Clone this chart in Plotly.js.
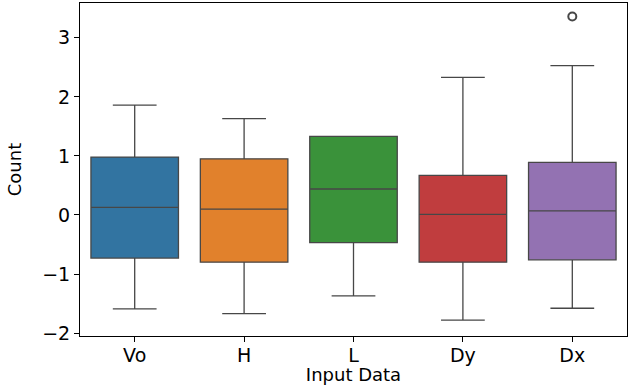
<!DOCTYPE html>
<html><head><meta charset="utf-8">
<script src="https://cdn.plot.ly/plotly-3.0.1.min.js"></script>
<style>html,body{margin:0;padding:0;background:#fff}#chart{width:637px;height:385px}</style>
</head><body><div id="chart"></div>
<script>
const categories = ["Vo", "H", "L", "Dy", "Dx"];
const q1Values = [-0.73, -0.80, -0.47, -0.80, -0.76];
const medianValues = [0.13, 0.10, 0.44, 0.01, 0.07];
const q3Values = [0.98, 0.95, 1.33, 0.67, 0.89];
const lowerWhisker = [-1.59, -1.67, -1.37, -1.78, -1.58];
const upperWhisker = [1.86, 1.63, 1.33, 2.33, 2.53];
const outlierCategories = ["Dx"];
const outlierValues = [3.36];
const colors = ["#3274a1", "#e1812c", "#3a923a", "#c03d3e", "#9372b2"];

const traces = categories.map((c, i) => ({
  type: "box",
  x: [c],
  q1: [q1Values[i]],
  median: [medianValues[i]],
  q3: [q3Values[i]],
  lowerfence: [lowerWhisker[i]],
  upperfence: [upperWhisker[i]],
  boxpoints: false,
  width: 0.8,
  whiskerwidth: 0.5,
  fillcolor: colors[i],
  line: {color: "#474747", width: 1.3},
  showlegend: false,
  hoverinfo: "y"
}));
traces.push({
  type: "scatter",
  mode: "markers",
  x: outlierCategories,
  y: outlierValues,
  marker: {symbol: "circle-open", size: 8, color: "#474747", line: {width: 2}},
  showlegend: false
});

const layout = {
  width: 637, height: 385,
  margin: {l: 80, r: 10, t: 3, b: 49},
  paper_bgcolor: "#fff", plot_bgcolor: "#fff",
  font: {family: "DejaVu Sans", color: "#000"},
  boxmode: "overlay",
  xaxis: {
    type: "category", categoryorder: "array", categoryarray: categories,
    range: [-0.5, 4.5],
    showline: true, mirror: true, linecolor: "#000", linewidth: 1,
    ticks: "outside", ticklen: 5, tickcolor: "#000",
    ticklabelstandoff: -3,
    showgrid: false, zeroline: false,
    tickfont: {size: 19},
    title: {text: "Input Data", font: {size: 18}, standoff: 2}
  },
  yaxis: {
    range: [-2.05, 3.59],
    tickvals: [-2, -1, 0, 1, 2, 3],
    ticktext: ["\u22122", "\u22121", "0", "1", "2", "3"],
    showline: true, mirror: true, linecolor: "#000", linewidth: 1,
    ticks: "outside", ticklen: 5, tickcolor: "#000",
    showgrid: false, zeroline: false,
    tickfont: {size: 19},
    title: {text: "Count", font: {size: 18}, standoff: 15}
  }
};
Plotly.newPlot("chart", traces, layout, {displayModeBar: false, staticPlot: true});
</script>
</body></html>
